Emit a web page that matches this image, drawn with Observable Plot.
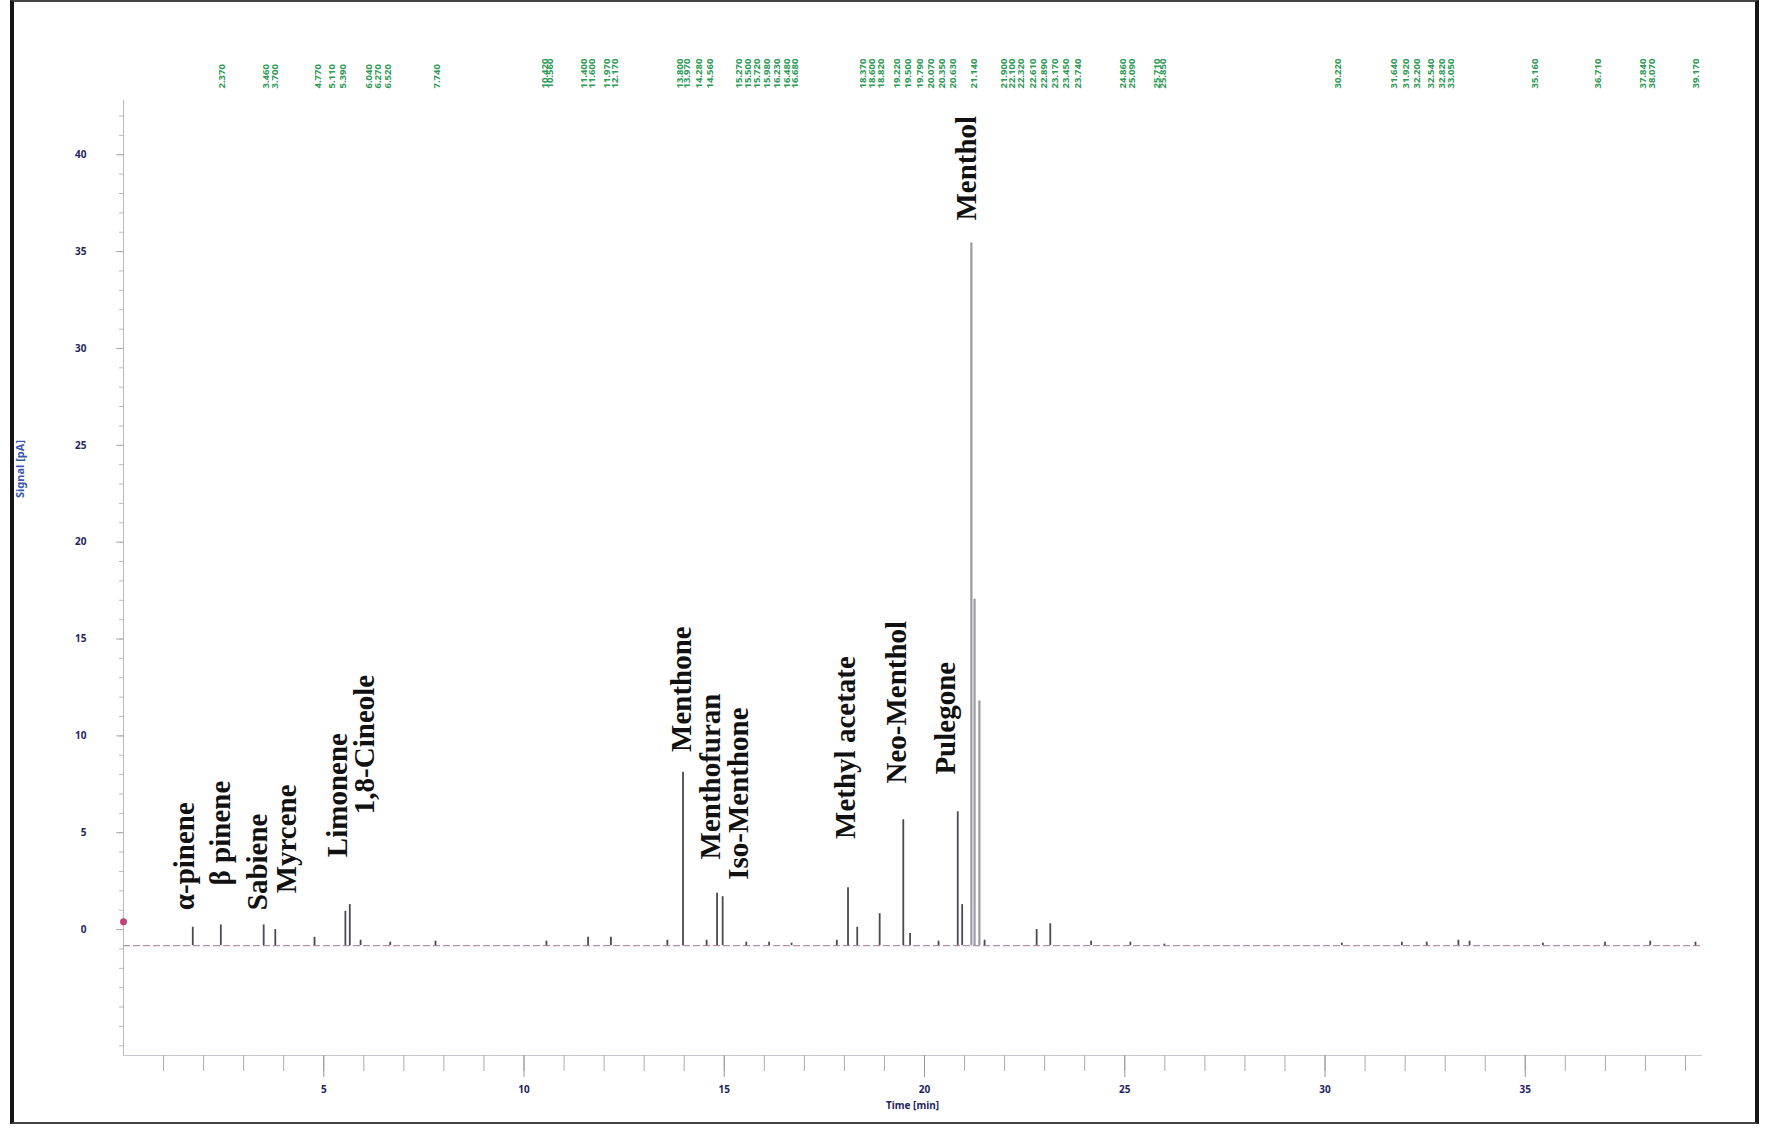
<!DOCTYPE html>
<html>
<head>
<meta charset="utf-8">
<script src="https://cdn.jsdelivr.net/npm/d3@7"></script>
<script src="https://cdn.jsdelivr.net/npm/@observablehq/plot@0.6"></script>
<style>
  html, body { margin: 0; padding: 0; background: #fff; }
  #wrap { position: relative; width: 1772px; height: 1128px; overflow: hidden; background: #fff; }
  #frame { position: absolute; left: 10px; top: 0px; width: 1741px; height: 1120px;
           border-left: 4px solid #151515; border-right: 4px solid #151515;
           border-top: 2px solid #444; border-bottom: 2px solid #444; pointer-events: none; }
  #chart { position: absolute; left: 0; top: 0; }
</style>
</head>
<body>
<div id="wrap"><div id="chart"></div><div id="frame"></div></div>
<script>
// ---- data ----
const BASELINE = -0.83;           // signal baseline level
const injection = [{rt: 0.0, h: 0.4}];

// retention time (min) and peak apex signal
const peakRT = [1.73, 2.43, 3.50, 3.79, 4.77, 5.54, 5.65, 5.92, 6.66, 7.79, 10.56, 11.60, 12.17, 13.58,
  13.97, 14.56, 14.82, 14.96, 15.55, 16.12, 16.68, 17.81, 18.09, 18.32, 18.88, 19.47, 19.64, 20.35,
  20.83, 20.94, 21.17, 21.25, 21.37, 21.50, 22.80, 23.14, 24.16, 25.14, 25.99, 30.42, 31.92, 32.54,
  33.33, 33.61, 35.44, 36.99, 38.12, 39.25];
const peakH = [0.12, 0.24, 0.24, 0.0, -0.40, 0.94, 1.29, -0.55, -0.65, -0.60, -0.60, -0.40, -0.40, -0.55,
  8.12, -0.55, 1.87, 1.70, -0.65, -0.65, -0.70, -0.55, 2.16, 0.12, 0.82, 5.67, -0.20, -0.60,
  6.08, 1.29, 35.45, 17.05, 11.8, -0.55, 0.0, 0.30, -0.60, -0.65, -0.75, -0.70, -0.65, -0.65,
  -0.55, -0.60, -0.70, -0.65, -0.60, -0.65];

// compound annotations
const compoundNames = ["α-pinene", "β pinene", "Sabiene", "Myrcene", "Limonene", "1,8-Cineole",
  "Menthone", "Menthofuran", "Iso-Menthone", "Methyl acetate", "Neo-Menthol", "Pulegone", "Menthol"];
const compoundRT = [1.53, 2.43, 3.36, 4.07, 5.34, 6.02, 13.94, 14.65, 15.36, 18.03, 19.30, 20.52, 21.05];
const compoundLabelY = [1.0, 2.28, 1.0, 1.87, 3.74, 5.96, 9.17, 3.62, 2.57, 4.68, 7.54, 8.0, 36.6];

// integrator retention-time marks printed along the top
const rtMarks = [2.37, 3.46, 3.70, 4.77, 5.11, 5.39, 6.04, 6.27, 6.52, 7.74, 10.42, 10.56, 11.40, 11.60,
  11.97, 12.17, 13.80, 13.97, 14.28, 14.56, 15.27, 15.50, 15.72, 15.98, 16.23, 16.48, 16.68, 18.37,
  18.60, 18.82, 19.22, 19.50, 19.79, 20.07, 20.35, 20.63, 21.14, 21.90, 22.10, 22.32, 22.61, 22.89,
  23.17, 23.45, 23.74, 24.86, 25.09, 25.71, 25.85, 30.22, 31.64, 31.92, 32.20, 32.54, 32.82, 33.05,
  35.16, 36.71, 37.84, 38.07, 39.17];

// axes
const xMajor = [5, 10, 15, 20, 25, 30, 35];
const xMinor = d3.range(1, 40, 1);
const yMajor = [0, 5, 10, 15, 20, 25, 30, 35, 40];
const yMinor = d3.range(-6, 43, 1);
const xTitle = "Time [min]";
const yTitle = "Signal [pA]";

// ---- build ----
const peaks = peakRT.map((rt, i) => ({rt, h: peakH[i]}));
const compounds = compoundNames.map((name, i) => ({name, rt: compoundRT[i], y: compoundLabelY[i]}));
const isMentholCluster = d => d.rt > 21.1 && d.rt < 21.45;

const navy = "#23255e";
const chart = Plot.plot({
  width: 1772,
  height: 1128,
  marginLeft: 123,
  marginRight: 71,
  marginTop: 100,
  marginBottom: 73,
  x: {domain: [0, 39.4]},
  y: {domain: [-6.5, 42.8]},
  style: {background: "transparent", overflow: "visible"},
  marks: [
    Plot.frame({anchor: "left", stroke: "#b8b8c0"}),
    Plot.frame({anchor: "bottom", stroke: "#c8c8d0"}),
    Plot.axisX({ticks: xMinor, tickSize: 16, text: null, label: null, stroke: "#aaa"}),
    Plot.axisX({ticks: xMajor, tickSize: 22, tickPadding: 8, label: null, stroke: "#999",
      fill: navy, fontSize: 10, fontWeight: "bold", tickFormat: d => String(d)}),
    Plot.axisY({ticks: yMinor, tickSize: 4, text: null, label: null, stroke: "#bbb"}),
    Plot.axisY({ticks: yMajor, tickSize: 7, tickPadding: 30, label: null, stroke: "#aaa",
      fill: navy, fontSize: 10, fontWeight: "bold", tickFormat: d => String(d)}),
    Plot.text([xTitle], {frameAnchor: "bottom", dy: 53, text: d => d, fill: navy,
      fontSize: 10, fontWeight: "bold"}),
    Plot.text([yTitle], {frameAnchor: "left", dx: -103, dy: -80, rotate: -90, text: d => d,
      fill: "#3a58b0", fontSize: 11, fontWeight: "bold"}),
    // baseline of the trace
    Plot.ruleY([BASELINE], {x1: 0, x2: 39.4, stroke: "#b890a8", strokeWidth: 1.2, strokeDasharray: "7,3"}),
    // peaks
    Plot.ruleX(peaks, {filter: d => !isMentholCluster(d), x: "rt", y1: BASELINE, y2: "h",
      stroke: "#4a4a52", strokeWidth: 1.8}),
    Plot.ruleX(peaks, {filter: isMentholCluster, x: "rt", y1: BASELINE, y2: "h",
      stroke: "#9a9aa2", strokeWidth: 2.2}),
    Plot.dot(injection, {x: "rt", y: "h", r: 3.5, fill: "#c0407a"}),
    // compound names
    Plot.text(compounds, {x: "rt", y: "y", text: "name", rotate: -90, textAnchor: "start",
      fontFamily: "Liberation Serif, serif", fontWeight: "bold", fontSize: 29, fill: "#111"}),
    // retention time marks at the top
    Plot.text(rtMarks, {x: d => d, frameAnchor: "top", dy: -12, text: d => d.toFixed(3),
      rotate: -90, textAnchor: "start", fill: "#2e9a55", fontSize: 9.5, fontWeight: "bold"})
  ]
});
document.getElementById("chart").appendChild(chart);
</script>
</body>
</html>
